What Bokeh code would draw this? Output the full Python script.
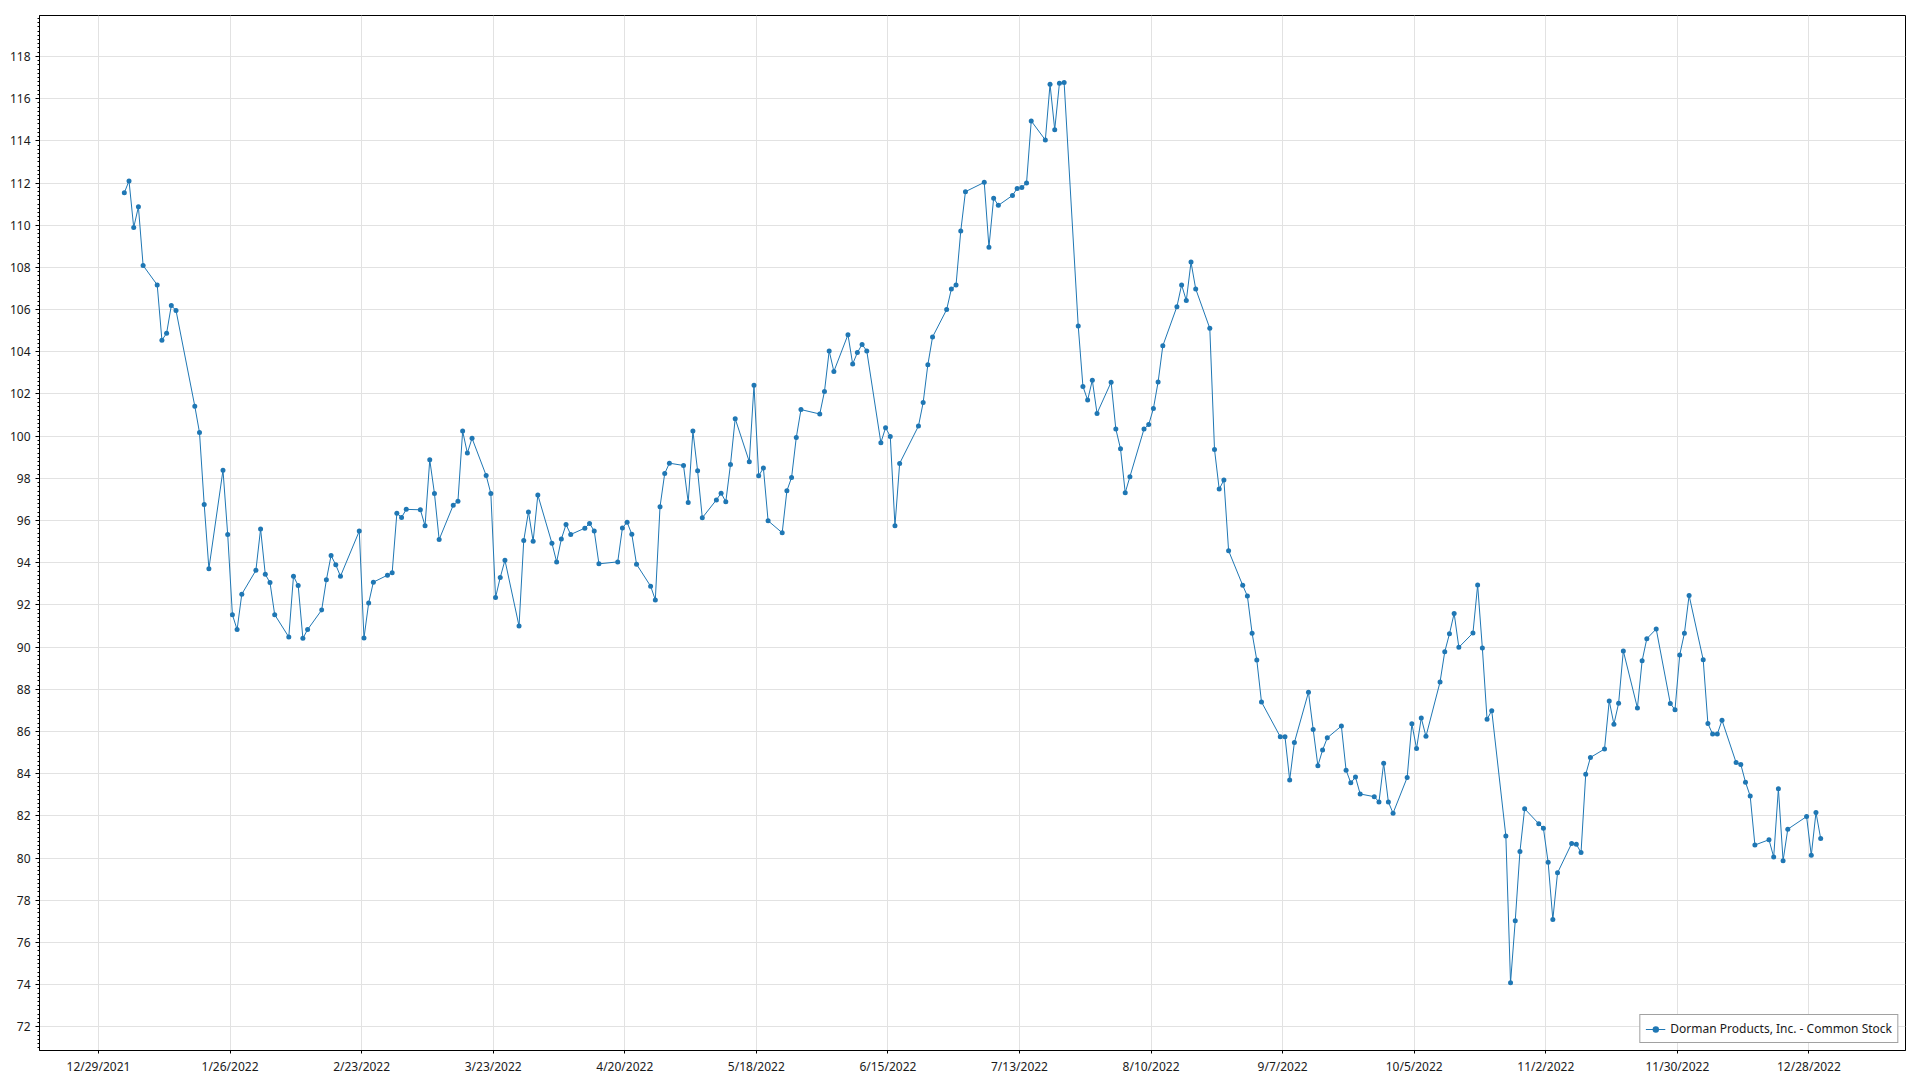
import pandas as pd
from bokeh.plotting import figure
from bokeh.models import (ColumnDataSource, Range1d, FixedTicker, SingleIntervalTicker,
                          CustomJSTickFormatter, Legend, LegendItem)
from bokeh.embed import file_html
from bokeh.resources import INLINE

# ---------------- data ----------------
dates = [
    # Jan
    "2022-01-03", "2022-01-04", "2022-01-05", "2022-01-06", "2022-01-07", "2022-01-10", "2022-01-11",
    "2022-01-12", "2022-01-13", "2022-01-14", "2022-01-18", "2022-01-19", "2022-01-20", "2022-01-21",
    "2022-01-24", "2022-01-25", "2022-01-26", "2022-01-27", "2022-01-28", "2022-01-31",
    # Feb
    "2022-02-01", "2022-02-02", "2022-02-03", "2022-02-04", "2022-02-07", "2022-02-08", "2022-02-09",
    "2022-02-10", "2022-02-11", "2022-02-14", "2022-02-15", "2022-02-16", "2022-02-17", "2022-02-18",
    "2022-02-22", "2022-02-23", "2022-02-24", "2022-02-25", "2022-02-28",
    # Mar
    "2022-03-01", "2022-03-02", "2022-03-03", "2022-03-04", "2022-03-07", "2022-03-08", "2022-03-09",
    "2022-03-10", "2022-03-11", "2022-03-14", "2022-03-15", "2022-03-16", "2022-03-17", "2022-03-18",
    "2022-03-21", "2022-03-22", "2022-03-23", "2022-03-24", "2022-03-25", "2022-03-28", "2022-03-29",
    "2022-03-30", "2022-03-31",
    # Apr
    "2022-04-01", "2022-04-04", "2022-04-05", "2022-04-06", "2022-04-07", "2022-04-08", "2022-04-11",
    "2022-04-12", "2022-04-13", "2022-04-14", "2022-04-18", "2022-04-19", "2022-04-20", "2022-04-21",
    "2022-04-22", "2022-04-25", "2022-04-26", "2022-04-27", "2022-04-28", "2022-04-29",
    # May
    "2022-05-02", "2022-05-03", "2022-05-04", "2022-05-05", "2022-05-06", "2022-05-09", "2022-05-10",
    "2022-05-11", "2022-05-12", "2022-05-13", "2022-05-16", "2022-05-17", "2022-05-18", "2022-05-19",
    "2022-05-20", "2022-05-23", "2022-05-24", "2022-05-25", "2022-05-26", "2022-05-27", "2022-05-31",
    # Jun
    "2022-06-01", "2022-06-02", "2022-06-03", "2022-06-06", "2022-06-07", "2022-06-08", "2022-06-09",
    "2022-06-10", "2022-06-13", "2022-06-14", "2022-06-15", "2022-06-16", "2022-06-17", "2022-06-21",
    "2022-06-22", "2022-06-23", "2022-06-24", "2022-06-27", "2022-06-28", "2022-06-29", "2022-06-30",
    # Jul
    "2022-07-01", "2022-07-05", "2022-07-06", "2022-07-07", "2022-07-08", "2022-07-11", "2022-07-12",
    "2022-07-13", "2022-07-14", "2022-07-15", "2022-07-18", "2022-07-19", "2022-07-20", "2022-07-21",
    "2022-07-22", "2022-07-25", "2022-07-26", "2022-07-27", "2022-07-28", "2022-07-29",
    # Aug
    "2022-08-01", "2022-08-02", "2022-08-03", "2022-08-04", "2022-08-05", "2022-08-08", "2022-08-09",
    "2022-08-10", "2022-08-11", "2022-08-12", "2022-08-15", "2022-08-16", "2022-08-17", "2022-08-18",
    "2022-08-19", "2022-08-22", "2022-08-23", "2022-08-24", "2022-08-25", "2022-08-26", "2022-08-29",
    "2022-08-30", "2022-08-31",
    # Sep
    "2022-09-01", "2022-09-02", "2022-09-06", "2022-09-07", "2022-09-08", "2022-09-09", "2022-09-12",
    "2022-09-13", "2022-09-14", "2022-09-15", "2022-09-16", "2022-09-19", "2022-09-20", "2022-09-21",
    "2022-09-22", "2022-09-23", "2022-09-26", "2022-09-27", "2022-09-28", "2022-09-29", "2022-09-30",
    # Oct
    "2022-10-03", "2022-10-04", "2022-10-05", "2022-10-06", "2022-10-07", "2022-10-10", "2022-10-11",
    "2022-10-12", "2022-10-13", "2022-10-14", "2022-10-17", "2022-10-18", "2022-10-19", "2022-10-20",
    "2022-10-21", "2022-10-24", "2022-10-25", "2022-10-26", "2022-10-27", "2022-10-28", "2022-10-31",
    # Nov
    "2022-11-01", "2022-11-02", "2022-11-03", "2022-11-04", "2022-11-07", "2022-11-08", "2022-11-09",
    "2022-11-10", "2022-11-11", "2022-11-14", "2022-11-15", "2022-11-16", "2022-11-17", "2022-11-18",
    "2022-11-21", "2022-11-22", "2022-11-23", "2022-11-25", "2022-11-28", "2022-11-29", "2022-11-30",
    # Dec
    "2022-12-01", "2022-12-02", "2022-12-05", "2022-12-06", "2022-12-07", "2022-12-08", "2022-12-09",
    "2022-12-12", "2022-12-13", "2022-12-14", "2022-12-15", "2022-12-16", "2022-12-19", "2022-12-20",
    "2022-12-21", "2022-12-22", "2022-12-23", "2022-12-27", "2022-12-28", "2022-12-29", "2022-12-30",
]

close = [
    # Jan
    111.54, 112.10, 109.89, 110.87, 108.09, 107.17, 104.55,
    104.88, 106.19, 105.96, 101.42, 100.17, 96.76, 93.72,
    98.39, 95.34, 91.54, 90.83, 92.51, 93.64,
    # Feb
    95.60, 93.45, 93.06, 91.54, 90.48, 93.36, 92.92,
    90.42, 90.83, 91.76, 93.19, 94.34, 93.90, 93.36,
    95.50, 90.43, 92.09, 93.08, 93.41,
    # Mar
    93.53, 96.35, 96.15, 96.53, 96.51, 95.75, 98.88,
    97.28, 95.10, 96.73, 96.92, 100.24, 99.20, 99.90,
    98.14, 97.28, 92.35, 93.30, 94.12, 91.00, 95.05,
    96.41, 95.02,
    # Apr
    97.21, 94.93, 94.04, 95.12, 95.81, 95.34, 95.64,
    95.86, 95.51, 93.95, 94.04, 95.65, 95.92, 95.35,
    93.93, 92.89, 92.24, 96.65, 98.23, 98.72,
    # May
    98.61, 96.86, 100.24, 98.36, 96.13, 96.98, 97.30,
    96.89, 98.66, 100.83, 98.79, 102.41, 98.12, 98.49,
    95.99, 95.42, 97.41, 98.04, 99.94, 101.26, 101.05,
    # Jun
    102.12, 104.04, 103.07, 104.81, 103.42, 103.96, 104.35,
    104.04, 99.69, 100.40, 99.99, 95.75, 98.71, 100.48,
    101.59, 103.39, 104.70, 106.00, 106.97, 107.17, 109.72,
    # Jul
    111.59, 112.03, 108.96, 111.28, 110.94, 111.41, 111.74,
    111.79, 112.00, 114.94, 114.04, 116.68, 114.53, 116.73,
    116.76, 105.22, 102.36, 101.71, 102.65, 101.08,
    # Aug
    102.56, 100.34, 99.40, 97.32, 98.08, 100.34, 100.55,
    101.31, 102.57, 104.28, 106.14, 107.17, 106.43, 108.25,
    106.98, 105.11, 99.37, 97.49, 97.92, 94.57, 92.93,
    92.42, 90.66,
    # Sep
    89.39, 87.40, 85.75, 85.75, 83.70, 85.48, 87.86,
    86.10, 84.38, 85.12, 85.70, 86.26, 84.17, 83.57,
    83.84, 83.04, 82.91, 82.66, 84.50, 82.66, 82.13,
    # Oct
    83.82, 86.37, 85.19, 86.64, 85.77, 88.35, 89.78,
    90.63, 91.60, 89.99, 90.67, 92.94, 89.96, 86.58,
    86.99, 81.05, 74.09, 77.03, 80.31, 82.34, 81.63,
    # Nov
    81.41, 79.80, 77.09, 79.30, 80.69, 80.66, 80.26,
    83.97, 84.77, 85.17, 87.45, 86.35, 87.34, 89.82,
    87.12, 89.35, 90.40, 90.86, 87.33, 87.03, 89.63,
    # Dec
    90.66, 92.45, 89.40, 86.38, 85.88, 85.88, 86.53,
    84.53, 84.44, 83.60, 82.94, 80.62, 80.87, 80.05,
    83.29, 79.88, 81.37, 81.97, 80.13, 82.16, 80.93,
]

x_tick_dates = ["2021-12-29", "2022-01-26", "2022-02-23", "2022-03-23", "2022-04-20",
                "2022-05-18", "2022-06-15", "2022-07-13", "2022-08-10", "2022-09-07",
                "2022-10-05", "2022-11-02", "2022-11-30", "2022-12-28"]

series_name = "Dorman Products, Inc. - Common Stock"

# ---------------- chart ----------------
t = pd.to_datetime(dates) + pd.Timedelta(hours=12)
source = ColumnDataSource(dict(t=t, close=close))

span = t.max() - t.min()
pad = span * 0.05
x_start = (t.min() - pad).to_pydatetime()
x_end = (t.max() + pad).to_pydatetime()

FONT = "Noto Sans"
TXT = "#1a1a1a"

p = figure(width=1920, height=1080, x_axis_type="datetime",
           output_backend="svg", toolbar_location=None,
           x_range=Range1d(x_start, x_end), y_range=Range1d(70.88, 119.94),
           min_border_left=39, min_border_right=15, min_border_top=15, min_border_bottom=30)

p.background_fill_color = "white"
p.border_fill_color = "white"
p.outline_line_color = "black"
p.outline_line_width = 1
p.outline_line_alpha = 1

epoch = pd.Timestamp("1970-01-01")
tick_ms = [float((pd.Timestamp(d) - epoch) / pd.Timedelta(milliseconds=1)) for d in x_tick_dates]
p.xaxis.ticker = FixedTicker(ticks=tick_ms)
p.xaxis.formatter = CustomJSTickFormatter(code="""
    const d = new Date(tick);
    return (d.getUTCMonth() + 1) + "/" + d.getUTCDate() + "/" + d.getUTCFullYear();
""")
p.yaxis.ticker = SingleIntervalTicker(interval=2, num_minor_ticks=10)

for ax in (p.xaxis, p.yaxis):
    ax.axis_line_color = "black"
    ax.major_tick_line_color = "black"
    ax.minor_tick_line_color = "black"
    ax.major_label_text_font = FONT
    ax.major_label_text_font_size = "12px"
    ax.major_label_text_color = TXT
    ax.major_tick_in = 0
    ax.minor_tick_in = 0

p.xaxis.major_tick_out = 3
p.xaxis.minor_tick_line_color = None
p.xaxis.major_label_standoff = 4
p.yaxis.major_tick_out = 4
p.yaxis.minor_tick_out = 2
p.yaxis.major_label_standoff = 5

p.grid.grid_line_color = "#e2e2e2"
p.grid.grid_line_width = 1

line = p.line("t", "close", source=source, line_color="#1f77b4", line_width=1)
pts = p.scatter("t", "close", source=source, size=5, fill_color="#1f77b4", line_color=None)

legend = Legend(items=[LegendItem(label=series_name, renderers=[line, pts])],
                location="bottom_right")
legend.margin = 7
legend.padding = 5
legend.border_line_color = "#444444"
legend.border_line_width = 1
legend.background_fill_color = "white"
legend.background_fill_alpha = 1
legend.label_text_font = FONT
legend.label_text_font_size = "12px"
legend.label_text_color = TXT
legend.glyph_width = 20
legend.glyph_height = 16
legend.label_height = 16
legend.label_standoff = 5
p.add_layout(legend)

open("out.html", "w").write(file_html(p, INLINE))
